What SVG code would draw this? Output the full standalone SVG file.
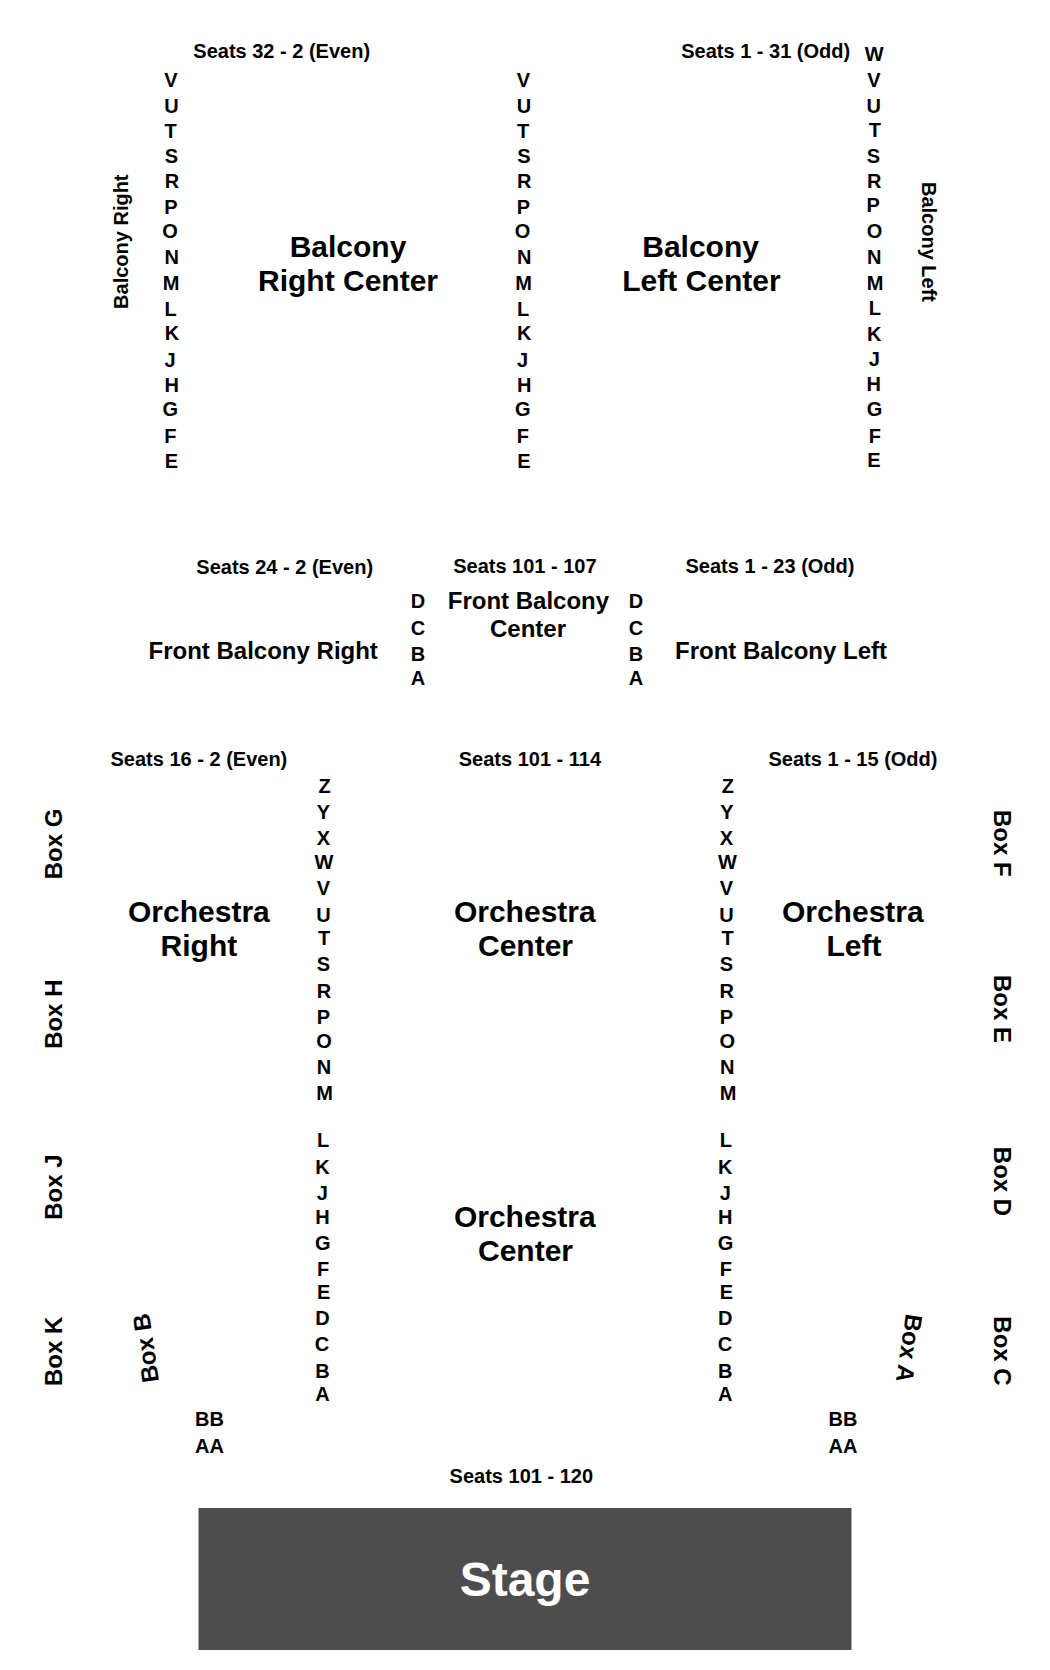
<svg xmlns="http://www.w3.org/2000/svg" width="1050" height="1670" viewBox="0 0 1050 1670">
<style>
text{font-family:"Liberation Sans",Arial,sans-serif;font-weight:700;fill:#000;text-anchor:middle;font-size:20px}
.t{font-size:30px}
.m{font-size:24px}
.stage{font-size:48px;fill:#fff}
</style>
<rect width="1050" height="1670" fill="#fff"/>
<g id="balcony-right-center">
<text x="281.7" y="57.6">Seats 32 - 2 (Even)</text>
<text x="348" y="257" class="t">Balcony</text>
<text x="348" y="291.2" class="t">Right Center</text>
<text transform="translate(127.5 241.7) rotate(-90)">Balcony Right</text>
<text x="171" y="86.7">V</text><text x="171.4" y="113">U</text><text x="170.7" y="138">T</text><text x="171.4" y="163">S</text><text x="172" y="188.2">R</text><text x="171" y="213.8">P</text><text x="170" y="238.4">O</text><text x="171.7" y="264.2">N</text><text x="171" y="290.2">M</text><text x="170.7" y="316">L</text><text x="172" y="339.5">K</text><text x="170" y="366.6">J</text><text x="171.7" y="392">H</text><text x="170.4" y="416.4">G</text><text x="170.4" y="442.6">F</text><text x="171.4" y="468.4">E</text>
</g>
<g id="balcony-center-rows">
<text x="523.5" y="86.7">V</text><text x="523.9" y="113">U</text><text x="523.2" y="138">T</text><text x="523.9" y="163">S</text><text x="524.2" y="188.2">R</text><text x="523.5" y="213.8">P</text><text x="522.5" y="238.4">O</text><text x="524.2" y="264.2">N</text><text x="523.5" y="290.2">M</text><text x="523.2" y="316">L</text><text x="524.2" y="339.5">K</text><text x="522.5" y="366.6">J</text><text x="524.2" y="392">H</text><text x="522.9" y="416.4">G</text><text x="522.9" y="442.6">F</text><text x="523.9" y="468.4">E</text>
</g>
<g id="balcony-left-center">
<text x="765.7" y="57.6">Seats 1 - 31 (Odd)</text>
<text x="700.6" y="257" class="t">Balcony</text>
<text x="701.4" y="291.2" class="t">Left Center</text>
<text transform="translate(921.7 242) rotate(90)">Balcony Left</text>
<text x="874.2" y="61">W</text><text x="873.8" y="87">V</text><text x="873.8" y="113">U</text><text x="874.9" y="137">T</text><text x="873.5" y="163">S</text><text x="874.2" y="188.2">R</text><text x="873.2" y="212.4">P</text><text x="874.5" y="238.4">O</text><text x="874.2" y="264.2">N</text><text x="875.2" y="290.2">M</text><text x="874.9" y="314.8">L</text><text x="874.2" y="340.5">K</text><text x="874.2" y="366.4">J</text><text x="873.8" y="391">H</text><text x="874.5" y="416.4">G</text><text x="874.9" y="443">F</text><text x="873.8" y="466.7">E</text>
</g>
<g id="front-balcony-right">
<text x="284.7" y="573.5">Seats 24 - 2 (Even)</text>
<text x="263.2" y="658.9" class="m">Front Balcony Right</text>
<text x="418" y="608.2">D</text><text x="418" y="634.7">C</text><text x="418" y="661.2">B</text><text x="418" y="685">A</text>
</g>
<g id="front-balcony-center">
<text x="524.9" y="572.5">Seats 101 - 107</text>
<text x="528.4" y="609.3" class="m">Front Balcony</text>
<text x="528" y="637" class="m">Center</text>
</g>
<g id="front-balcony-left">
<text x="770" y="573">Seats 1 - 23 (Odd)</text>
<text x="781" y="658.9" class="m">Front Balcony Left</text>
<text x="636.1" y="608.2">D</text><text x="636.1" y="634.7">C</text><text x="636.1" y="661.2">B</text><text x="636.1" y="685">A</text>
</g>
<g id="orchestra-right">
<text x="198.9" y="766">Seats 16 - 2 (Even)</text>
<text x="198.9" y="921.7" class="t">Orchestra</text>
<text x="198.9" y="955.8" class="t">Right</text>
<g id="orchestra-right-rows">
<text x="324.7" y="793.2">Z</text><text x="323.4" y="819.2">Y</text><text x="323.4" y="845.3">X</text><text x="324" y="868.8">W</text><text x="323.4" y="895.4">V</text><text x="323.4" y="921.8">U</text><text x="324" y="944.8">T</text><text x="323.4" y="971.3">S</text><text x="324" y="997.7">R</text><text x="323.4" y="1024">P</text><text x="324" y="1048">O</text><text x="324" y="1073.7">N</text><text x="324.7" y="1099.8">M</text><text x="323" y="1147.2">L</text><text x="322.4" y="1173.8">K</text><text x="322.4" y="1199.9">J</text><text x="322.4" y="1224.3">H</text><text x="322.7" y="1250.2">G</text><text x="323" y="1275.6">F</text><text x="323.7" y="1298.5">E</text><text x="322.4" y="1324.7">D</text><text x="322" y="1350.8">C</text><text x="322.4" y="1377.6">B</text><text x="322.4" y="1401.3">A</text>
</g>
<text x="209.4" y="1426.4">BB</text><text x="209.4" y="1452.5">AA</text>
</g>
<g id="orchestra-center">
<text x="529.9" y="766">Seats 101 - 114</text>
<text x="524.8" y="921.7" class="t">Orchestra</text>
<text x="525.5" y="955.8" class="t">Center</text>
<text x="524.8" y="1226.8" class="t">Orchestra</text>
<text x="525.5" y="1261" class="t">Center</text>
<text x="521.3" y="1482.6">Seats 101 - 120</text>
</g>
<g id="orchestra-left">
<text x="853" y="766">Seats 1 - 15 (Odd)</text>
<text x="852.8" y="921.7" class="t">Orchestra</text>
<text x="854" y="955.8" class="t">Left</text>
<g id="orchestra-left-rows">
<text x="727.9" y="793.2">Z</text><text x="727" y="819.2">Y</text><text x="726.5" y="845.3">X</text><text x="727.5" y="868.8">W</text><text x="726.5" y="895.4">V</text><text x="726.5" y="921.8">U</text><text x="727.5" y="944.8">T</text><text x="726.5" y="971.3">S</text><text x="726.8" y="997.7">R</text><text x="726.5" y="1024">P</text><text x="727.2" y="1048">O</text><text x="727.2" y="1073.7">N</text><text x="728.2" y="1099.8">M</text><text x="725.9" y="1147.2">L</text><text x="725.2" y="1173.8">K</text><text x="725.2" y="1199.9">J</text><text x="725.2" y="1224.3">H</text><text x="725.5" y="1250.2">G</text><text x="725.9" y="1275.6">F</text><text x="726.5" y="1298.5">E</text><text x="725.2" y="1324.7">D</text><text x="724.9" y="1350.8">C</text><text x="725.2" y="1377.6">B</text><text x="725.2" y="1401.3">A</text>
</g>
<text x="843" y="1426.4">BB</text><text x="843" y="1452.5">AA</text>
</g>
<g id="box-g"><text class="m" transform="translate(61.6 844) rotate(-90)">Box G</text></g>
<g id="box-h"><text class="m" transform="translate(61.6 1014.2) rotate(-90)">Box H</text></g>
<g id="box-j"><text class="m" transform="translate(61.6 1187.1) rotate(-90)">Box J</text></g>
<g id="box-k"><text class="m" transform="translate(61.6 1351.3) rotate(-90)">Box K</text></g>
<g id="box-b"><text class="m" transform="translate(154 1347) rotate(-98.5)">Box B</text></g>
<g id="box-a"><text class="m" transform="translate(901 1347) rotate(98.5)">Box A</text></g>
<g id="box-f"><text class="m" transform="translate(994 843.3) rotate(90)">Box F</text></g>
<g id="box-e"><text class="m" transform="translate(994 1008.9) rotate(90)">Box E</text></g>
<g id="box-d"><text class="m" transform="translate(994 1181.5) rotate(90)">Box D</text></g>
<g id="box-c"><text class="m" transform="translate(994 1351) rotate(90)">Box C</text></g>
<g id="stage">
<rect x="198.5" y="1508" width="653" height="142" fill="#4d4d4d"/>
<text x="525" y="1595.5" class="stage">Stage</text>
</g>
</svg>
